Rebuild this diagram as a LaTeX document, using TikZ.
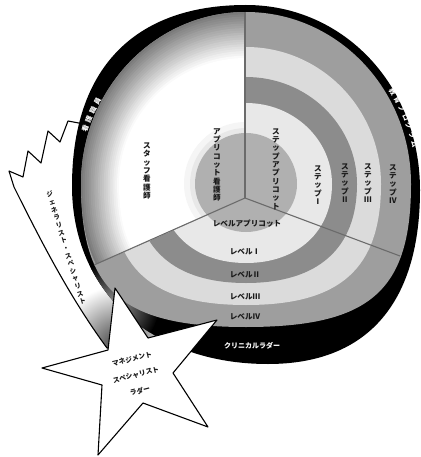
\documentclass[tikz,border=0pt]{standalone}
\usepackage{fontspec}
\setmainfont{Noto Sans CJK JP}
\usepackage{tikz}
\usetikzlibrary{shapes,arrows,positioning}

\definecolor{bandfour}{gray}{0.62}
\definecolor{bandthree}{gray}{0.86}
\definecolor{bandtwo}{gray}{0.55}
\definecolor{bandone}{gray}{0.91}
\definecolor{apricot}{gray}{0.69}
\definecolor{divider}{gray}{0.42}

\tikzset{
 vlabel/.style = {align=center, inner sep=0pt, text=black!90,
           font=\fontsize{7.6}{8.3}\selectfont\bfseries},
 hlabel/.style = {inner sep=0pt, text=black!90,
           font=\fontsize{7.6}{9}\selectfont\bfseries},
 rimlabel/.style = {inner sep=0pt, text=white,
           font=\fontsize{7}{8}\selectfont\bfseries},
 rimchar/.style = {inner sep=0pt, text=white,
           font=\fontsize{6.8}{7}\selectfont\bfseries},
 outline/.style = {draw=black, line width=1.1pt, line join=round},
 divline/.style = {draw=divider, line width=1.1pt}
}

% one ring: half width, top radius, bottom radius, bottom squareness
\newcommand\ring[4]{(246-#1,184)
  .. controls (246-#1,184-0.552*#2) and (246-0.552*#1,184-#2) .. (246,184-#2)
  .. controls (246+0.552*#1,184-#2) and (246+#1,184-0.552*#2) .. (246+#1,184)
  .. controls (246+#1,184+#4*#3) and (246+#4*#1,184+#3) .. (246,184+#3)
  .. controls (246-#4*#1,184+#3) and (246-#1,184+#4*#3) .. (246-#1,184) -- cycle}

\newcommand\rimpath{(72,186) .. controls (72,70) and (133,5) .. (246,5)
  .. controls (344,5) and (420,86) .. (420,190)
  .. controls (420,300) and (370,364) .. (268,364)
  .. controls (150,364) and (72,290) .. (72,186) -- cycle}

\newcommand\flagpath{(68,121) -- (60,142) -- (48,131) -- (41,163) -- (28,151)
  -- (23,177) -- (9,171) -- (14,187) .. controls (38,235) and (68,295) .. (107,348)
  -- (170,348) -- (170,140) -- cycle}

\newcommand\starpath{(115,288) -- (148,338) -- (217,320) -- (173,373) -- (208,427)
  -- (143,403) -- (98,455) -- (102,385) -- (42,368) -- (108,350) -- cycle}

\begin{document}
\begin{tikzpicture}[x=1pt, y=-1pt]
  \useasboundingbox (0,0) rectangle (420,457);

  % Banner behind the disc
  \fill[white] \flagpath;
  \begin{scope}
    \clip \flagpath;
    \shade[inner color=black!75, outer color=white] (118,346) circle (60);
  \end{scope}
  \draw[outline] \flagpath;

  % Rim
  \fill[black] \rimpath;
  \begin{scope}
    \clip \rimpath;
    \shade[inner color=black!40, outer color=black] (114,306) circle (45);
  \end{scope}

  % Rings, right and bottom sectors
  \fill[bandfour] \ring{165}{172}{143}{0.75};
  \begin{scope}
    \clip (245,198) -- (245,0) -- (420,0) -- (420,457) -- (0,457) -- (0,307) -- cycle;
    \fill[bandthree] \ring{135}{137}{121}{0.7};
    \fill[bandtwo] \ring{111}{107}{99}{0.65};
    \fill[bandone] \ring{86}{81}{79}{0.6};
  \end{scope}

  % Left sector: grey edge fading into white
  \begin{scope}
    \clip (245,198) -- (245,0) -- (0,0) -- (0,307) -- cycle;
    \foreach \i [evaluate=\i as \w using 165-1.9*\i,
                 evaluate=\i as \t using 172-2.3*\i,
                 evaluate=\i as \b using 143-1.6*\i,
                 evaluate=\i as \g using int(52-2.6*\i)] in {0,...,20}
      \fill[black!\g] \ring{\w}{\t}{\b}{0.72};
    \fill[black!4] \ring{62}{62}{59}{0.552};
    \fill[black!9] \ring{56}{56}{53}{0.552};
  \end{scope}

  \fill[apricot] \ring{51}{51}{48}{0.552};

  % Dividers
  \coordinate (hub) at (245,198);
  \coordinate (up) at (245,12);
  \coordinate (lft) at (94,265);
  \coordinate (rgt) at (400,256);
  \draw[divline] (hub) -- (up);
  \draw[divline] (hub) -- (lft);
  \draw[divline] (hub) -- (rgt);

  % Left sector
  \node[vlabel] (staff) at (147,171) {ス\\タ\\ッ\\フ\\看\\護\\師};
  \node[vlabel] (apnurse) at (217,165) {ア\\プ\\リ\\コ\\ッ\\ト\\看\\護\\師};

  % Right sector
  \node[vlabel] (stepap) at (276,169) {ス\\テ\\ッ\\プ\\ア\\プ\\リ\\コ\\ッ\\ト};
  \node[vlabel] (stepone) at (318,185) {ス\\テ\\ッ\\プ\\Ⅰ};
  \node[vlabel] (steptwo) at (345,183) {ス\\テ\\ッ\\プ\\Ⅱ};
  \node[vlabel] (stepthree) at (368,183) {ス\\テ\\ッ\\プ\\Ⅲ};
  \node[vlabel] (stepfour) at (393,184) {ス\\テ\\ッ\\プ\\Ⅳ};

  % Bottom sector
  \node[hlabel] (lvap) at (247,224) {レベルアプリコット};
  \node[hlabel] (lvone) at (245,252) {レベルⅠ};
  \node[hlabel] (lvtwo) at (245,275) {レベルⅡ};
  \node[hlabel] (lvthree) at (245,297) {レベルⅢ};
  \node[hlabel] (lvfour) at (245,317) {レベルⅣ};

  % Rim labels, one character at a time along the rim
  \node[rimlabel] (ladder) at (252,346) {クリニカルラダー};
  \foreach \c [count=\k, evaluate=\k as \a using -161+3.4*(\k-1)] in {看,護,職,員}
    \node[rimchar, rotate=-\a-90] (staff\k) at ({246+170*cos(\a)},{184+170*sin(\a)}) {\c};
  \foreach \c [count=\k, evaluate=\k as \a using -32+3.1*(\k-1)] in {教,育,プ,ロ,グ,ラ,ム}
    \node[rimchar, rotate=-\a-90] (prog\k) at ({246+173*cos(\a)},{184+173*sin(\a)}) {\c};

  % Banner text
  \node[vlabel, font=\fontsize{6.5}{8}\selectfont\bfseries, rotate=17] (career)
    at (66,248) {ジ\\ェ\\ネ\\ラ\\リ\\ス\\ト\\・\\ス\\ペ\\シ\\ャ\\リ\\ス\\ト};

  % Star
  \fill[white] \starpath;
  \draw[outline] \starpath;
  \node[align=center, inner sep=0pt, text=black!90, rotate=14,
    font=\fontsize{6.8}{16.5}\selectfont\bfseries] (mgmt) at (136,375)
    {マネジメント\\スペシャリスト\\ラダー};
\end{tikzpicture}
\end{document}
